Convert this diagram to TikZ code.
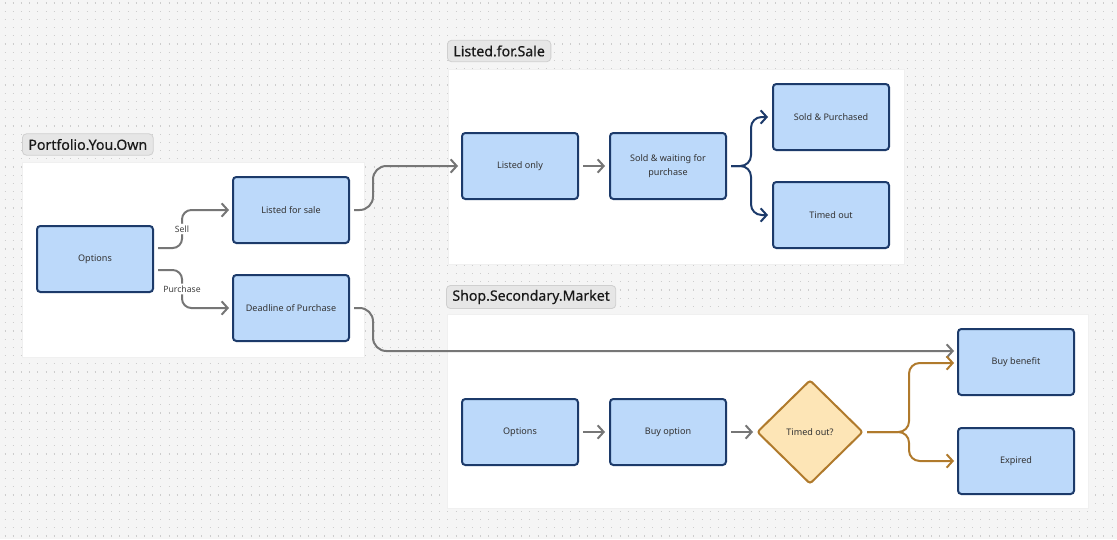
\documentclass[tikz,border=0pt]{standalone}
\usepackage{fontspec}
\setmainfont{Noto Sans}
\newfontfamily\tagfont[FakeBold=0.4]{Noto Sans}
\usetikzlibrary{arrows.meta,shapes.geometric,calc}

\definecolor{canvas}{HTML}{F5F5F5}
\definecolor{dotgrey}{HTML}{CDCDCD}
\definecolor{boxblue}{HTML}{BCD9FA}
\definecolor{boxnavy}{HTML}{1C3A6A}
\definecolor{flowgrey}{HTML}{767676}
\definecolor{decfill}{HTML}{FDE5B6}
\definecolor{decbrown}{HTML}{B07A2C}
\definecolor{tagfill}{HTML}{E6E6E6}
\definecolor{tagedge}{HTML}{CFCFCF}

\tikzset{every picture/.style={line width=0.75pt}}
\tikzset{
  state/.style={draw=boxnavy, fill=boxblue, line width=1.5pt, rounded corners=2.5pt,
    minimum width=87pt, minimum height=49.5pt, align=center,
    font=\fontsize{6.8}{10}\selectfont, text=black!80, inner sep=2pt},
  decide/.style={diamond, aspect=1, draw=decbrown, fill=decfill, line width=1.5pt,
    rounded corners=2pt, minimum width=79.5pt, minimum height=78pt, inner sep=0pt,
    font=\fontsize{6.8}{10}\selectfont, text=black!80},
  tag/.style={anchor=west, fill=tagfill, draw=tagedge, line width=0.6pt, rounded corners=3pt,
    minimum height=16pt, inner xsep=4.5pt, font=\tagfont\fontsize{10.6}{12}\selectfont, text=black!90},
  panel/.style={fill=white, draw=black!6, line width=0.5pt},
  flowlbl/.style={fill=white, inner sep=1.5pt, font=\fontsize{6.5}{8}\selectfont, text=black!75},
  tipbarb/.tip={Straight Barb[length=4.5pt, width=10pt]},
  greyflow/.style={draw=flowgrey, line width=1.5pt, rounded corners=7, -tipbarb},
  navyflow/.style={draw=boxnavy, line width=1.5pt, rounded corners=8, -tipbarb},
  brownflow/.style={draw=decbrown, line width=1.5pt, rounded corners=8, -tipbarb},
}

\begin{document}
\begin{tikzpicture}[x=0.75pt,y=0.75pt,yscale=-1,xscale=1]
	\useasboundingbox (0,0) rectangle (1117,539);
	%canvas with dot grid
	\fill[canvas] (0,0) rectangle (1117,539);
	\foreach \y in {3,11.2,...,539}
		\draw[dotgrey, line width=0.8pt, dash pattern=on 0.8pt off 5.35pt] (4.5,\y) -- (1117,\y);
	
	%panels
	\path[panel] (22,162) rectangle (364,357);
	\path[panel] (448,69) rectangle (904,264);
	\path[panel] (447,314) rectangle (1088,508);
	
	% Tags
	\node[tag] (tagown) at (22,144.5) {Portfolio.You.Own};
	\node[tag] (tagsale) at (447,51) {Listed.for.Sale};
	\node[tag] (tagshop) at (446,297) {Shop.Secondary.Market};
	
	% Portfolio.You.Own
	\node[state] (ownopt) at (95,259) {Options};
	\node[state] (ownlist) at (291,210) {Listed for sale};
	\node[state] (owndead) at (291,308) {Deadline of Purchase};
	
	% Listed.for.Sale
	\node[state] (salelist) at (520,166) {Listed only};
	\node[state] (salewait) at (668,166) {Sold \& waiting for\\purchase};
	\node[state] (salesold) at (831,117) {Sold \& Purchased};
	\node[state] (saletime) at (831,215) {Timed out};
	
	% Shop.Secondary.Market
	\node[state] (shopopt) at (520,432) {Options};
	\node[state] (shopbuy) at (668,432) {Buy option};
	\node[decide] (shopdec) at (810,432) {Timed out?};
	\node[state] (shopben) at (1016,362) {Buy benefit};
	\node[state] (shopexp) at (1016,461) {Expired};
	
	% grey flows
	\draw[greyflow] ($(ownopt.east)+(4,-11)$) -| node[flowlbl, pos=0.75] {Sell} ($(ownlist.west)+(-50,0)$) -- ($(ownlist.west)+(-3,0)$);
	\draw[greyflow] ($(ownopt.east)+(4,11)$) -| node[flowlbl, pos=0.75] {Purchase} ($(owndead.west)+(-50,0)$) -- ($(owndead.west)+(-3,0)$);
	\draw[greyflow, rounded corners=10] ($(ownlist.east)+(4,0)$) -- ++(19,0) |- ($(salelist.west)+(-3,0)$);
	\draw[greyflow, rounded corners=10] ($(owndead.east)+(4,0)$) -- ++(19,0) |- ($(shopben.west)+(-3,-11)$);
	\draw[greyflow] ($(salelist.east)+(4,0)$) -- ($(salewait.west)+(-4,0)$);
	\draw[greyflow] ($(shopopt.east)+(4,0)$) -- ($(shopbuy.west)+(-4,0)$);
	\draw[greyflow] ($(shopbuy.east)+(4,0)$) -- ($(shopdec.west)+(-3,0)$);
	
	% navy flows
	\draw[navyflow] ($(salewait.east)+(4,0)$) -- ++(20,0) |- ($(salesold.west)+(-4,0)$);
	\draw[navyflow] ($(salewait.east)+(4,0)$) -- ++(20,0) |- ($(saletime.west)+(-4,0)$);
	
	% brown flows
	\draw[brownflow] ($(shopdec.east)+(3,0)$) -- ++(42,0) |- ($(shopben.west)+(-3,1)$);
	\draw[brownflow] ($(shopdec.east)+(3,0)$) -- ++(42,0) |- ($(shopexp.west)+(-3,0)$);
	
\end{tikzpicture}
\end{document}
